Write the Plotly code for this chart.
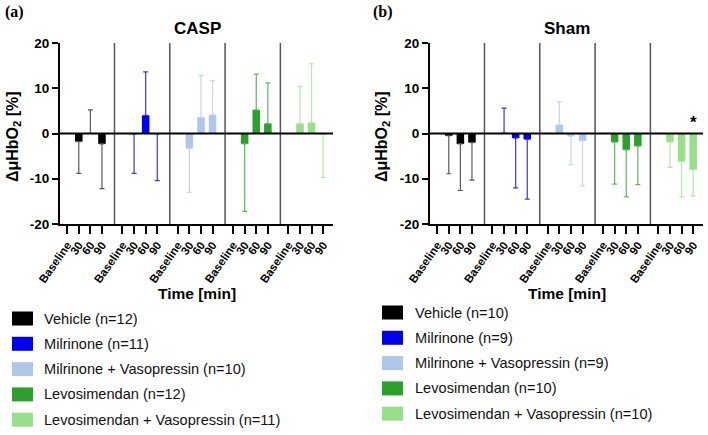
import plotly.graph_objects as go
import numpy as np

W, H = 708, 435

time_labels = ["Baseline", "30", "60", "90"]
groups = ["Vehicle", "Milrinone", "Milrinone + Vasopressin", "Levosimendan", "Levosimendan + Vasopressin"]

# CASP means and signed SD (positive = drawn upward, negative = drawn downward)
casp_vehicle = [0, -1.8, 0.0, -2.3]
casp_vehicle_sd = [0, -7.0, 5.2, -9.9]
casp_milrinone = [0, -0.1, 4.0, -0.1]
casp_milrinone_sd = [0, -8.7, 9.6, -10.3]
casp_milvaso = [0, -3.3, 3.6, 4.1]
casp_milvaso_sd = [0, -9.7, 9.2, 7.6]
casp_levo = [0, -2.3, 5.2, 2.2]
casp_levo_sd = [0, -14.9, 7.9, 9.0]
casp_levovaso = [0, 2.2, 2.4, -0.1]
casp_levovaso_sd = [0, 8.2, 13.0, -9.6]

# Sham
sham_vehicle = [0, -0.5, -2.3, -2.0]
sham_vehicle_sd = [0, -8.4, -10.3, -8.3]
sham_milrinone = [0, 0.1, -1.0, -1.3]
sham_milrinone_sd = [0, 5.5, -11.0, -13.2]
sham_milvaso = [0, 1.9, -0.6, -1.6]
sham_milvaso_sd = [0, 5.1, -6.3, -10.0]
sham_levo = [0, -1.9, -3.6, -2.8]
sham_levo_sd = [0, -9.3, -10.4, -8.5]
sham_levovaso = [0, -1.9, -6.2, -8.0]
sham_levovaso_sd = [0, -5.6, -7.8, -5.8]

casp_n = [12, 11, 10, 12, 11]
sham_n = [10, 9, 9, 10, 10]

bar_colors = ["#000000", "#0000f0", "#aec7e8", "#2ca02c", "#98df8a"]
err_colors = ["#5a5a5a", "#3c3cd0", "#c4d5ee", "#5cb85c", "#b4e8a8"]

casp_means = [casp_vehicle, casp_milrinone, casp_milvaso, casp_levo, casp_levovaso]
casp_sds = [casp_vehicle_sd, casp_milrinone_sd, casp_milvaso_sd, casp_levo_sd, casp_levovaso_sd]
sham_means = [sham_vehicle, sham_milrinone, sham_milvaso, sham_levo, sham_levovaso]
sham_sds = [sham_vehicle_sd, sham_milrinone_sd, sham_milvaso_sd, sham_levo_sd, sham_levovaso_sd]

G = 4.77  # spacing between groups (in slot units)
XR = [-0.62, 4 * G + 3 + 0.85]

fig = go.Figure()

def add_panel(means, sds, xa, ya):
    for gi, (m, s) in enumerate(zip(means, sds)):
        xs = [gi * G + k for k in range(4)]
        plus = [v if v > 0 else 0 for v in s]
        minus = [-v if v < 0 else 0 for v in s]
        fig.add_trace(go.Bar(
            x=xs, y=m, width=0.65, xaxis=xa, yaxis=ya,
            marker=dict(color=bar_colors[gi], line=dict(width=0)),
            error_y=dict(type="data", symmetric=False, array=plus, arrayminus=minus,
                         color=err_colors[gi], thickness=1.2, width=2.5),
            name=groups[gi], showlegend=False, hoverinfo="skip"))

add_panel(casp_means, casp_sds, "x", "y")
add_panel(sham_means, sham_sds, "x2", "y2")

tickvals = [gi * G + k for gi in range(5) for k in range(4)]
ticktext = ["<b>%s</b>" % t for _ in range(5) for t in time_labels]

ydom = [1 - 224 / H, 1 - 43 / H]
xdom1 = [60 / W, 333 / W]
xdom2 = [430 / W, 703 / W]

xcommon = dict(range=XR, tickvals=tickvals, ticktext=ticktext, tickangle=-55,
               showline=True, linecolor="black", linewidth=2, ticks="outside",
               ticklen=8, tickwidth=2, tickcolor="black", showgrid=False, zeroline=False,
               automargin=False,
               tickfont=dict(family="Liberation Sans, Arial", size=11.5, color="black"))
ycommon = dict(range=[-20, 20], tickvals=[-20, -10, 0, 10, 20],
               ticktext=["<b>-20</b>", "<b>-10</b>", "<b>0</b>", "<b>10</b>", "<b>20</b>"],
               showline=True, linecolor="black", linewidth=2, ticks="outside",
               ticklen=6, tickwidth=2, tickcolor="black", showgrid=False, zeroline=False,
               automargin=False,
               tickfont=dict(family="Liberation Sans, Arial", size=13.5, color="black"))

fig.update_layout(
    template="none",
    width=W, height=H, margin=dict(l=0, r=0, t=0, b=0, pad=0, autoexpand=False),
    plot_bgcolor="white", paper_bgcolor="white", barmode="overlay", showlegend=False,
    xaxis=dict(domain=xdom1, anchor="y", **xcommon),
    yaxis=dict(domain=ydom, anchor="x", **ycommon),
    xaxis2=dict(domain=xdom2, anchor="y2", **xcommon),
    yaxis2=dict(domain=ydom, anchor="x2", **ycommon),
)

shapes = []
for xa, ya in [("x", "y"), ("x2", "y2")]:
    for gi in range(1, 5):
        sx = gi * G - 0.69
        shapes.append(dict(type="line", xref=xa, yref=ya + " domain", x0=sx, x1=sx, y0=0, y1=1,
                           line=dict(color="#555555", width=1.5), layer="above"))
    shapes.append(dict(type="line", xref=xa + " domain", yref=ya, x0=0, x1=1, y0=0, y1=0,
                       line=dict(color="black", width=2), layer="above"))

annotations = []
def px(x):
    return x / W
def py(y):
    return 1 - y / H

def ann(text, x, y, size, family="Liberation Sans, Arial", **kw):
    d = dict(text=text, x=px(x), y=py(y), xref="paper", yref="paper", showarrow=False,
             xanchor="center", yanchor="middle",
             font=dict(size=size, family=family, color="black"))
    d.update(kw)
    return d

annotations += [
    ann("<b>CASP</b>", 197, 28, 17),
    ann("<b>Sham</b>", 567, 28, 17),
    ann("<b>(a)</b>", 14, 12, 16, family="Liberation Serif, Times New Roman"),
    ann("<b>(b)</b>", 383, 12, 16, family="Liberation Serif, Times New Roman"),
    ann("<b>ΔμHbO<sub>2</sub> [%]</b>", 13, 137, 16, textangle=-90),
    ann("<b>ΔμHbO<sub>2</sub> [%]</b>", 382, 137, 16, textangle=-90),
    ann("<b>Time [min]</b>", 197, 293, 15.5),
    ann("<b>Time [min]</b>", 567, 293, 15.5),
    dict(text="<b>*</b>", x=4 * G + 3, y=0, xref="x2", yref="y2", yanchor="bottom",
         xanchor="center", showarrow=False,
         font=dict(size=17, family="Liberation Sans, Arial", color="black")),
]

# legends
def legend(x_sw, x_txt, y0, ns):
    for i, (g, n) in enumerate(zip(groups, ns)):
        yc = y0 + i * 25.3
        shapes.append(dict(type="rect", xref="paper", yref="paper",
                           x0=px(x_sw), x1=px(x_sw + 21), y0=py(yc - 7), y1=py(yc + 7),
                           fillcolor=bar_colors[i], line=dict(width=0)))
        annotations.append(dict(text="%s (n=%d)" % (g, n), x=px(x_txt), y=py(yc),
                                xref="paper", yref="paper", xanchor="left", yanchor="middle",
                                showarrow=False,
                                font=dict(size=14.6, family="Liberation Sans, Arial", color="#111111")))

legend(12, 42, 318.5, casp_n)
legend(382, 413, 312.5, sham_n)

fig.update_layout(shapes=shapes, annotations=annotations)
fig.write_html("out.html")
